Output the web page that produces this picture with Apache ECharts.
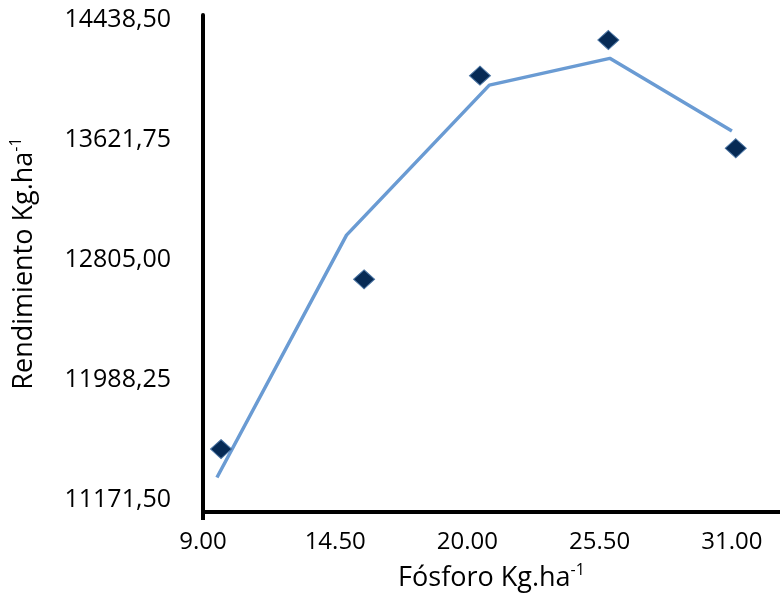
<!DOCTYPE html>
<html>
<head>
<meta charset="utf-8">
<script src="https://cdn.jsdelivr.net/npm/echarts@6/dist/echarts.min.js"></script>
<style>html,body{margin:0;padding:0;background:#fff}#c{width:780px;height:599px}</style>
</head>
<body>
<div id="c"></div>
<script>
// Observed points (diamonds)
var pointX = [9.75, 15.70, 20.52, 25.86, 31.16];
var pointY = [11518, 12673, 14059, 14302, 13565];
// Fitted line
var lineX = [9.58, 14.97, 20.91, 25.92, 31.00];
var lineY = [11325, 12974, 13995, 14177, 13682];
// Tick labels
var xTicks = [9, 14.5, 20, 25.5, 31];
var yTicks = [11171.5, 11988.25, 12805, 13621.75, 14438.5];

function zip(a, b) { return a.map(function (v, i) { return [v, b[i]]; }); }
function fmtComma(v) { return v.toFixed(2).replace('.', ','); }

var chart = echarts.init(document.getElementById('c'));
var font = 'Open Sans';
chart.setOption({
  animation: false,
  grid: { left: 201, right: 0, top: 15, bottom: 87, containLabel: false },
  xAxis: {
    type: 'value', min: 9, max: 33,
    name: '{a|Fósforo Kg.ha}{s|-1}',
    nameLocation: 'middle', nameGap: 50,
    nameTextStyle: {
      rich: {
        a: { fontFamily: font, fontSize: 27, color: '#000', lineHeight: 32 },
        s: { fontFamily: font, fontSize: 16, color: '#000', verticalAlign: 'top', lineHeight: 32, padding: [0, 0, 12, 0] }
      }
    },
    axisLine: { show: true, onZero: false, lineStyle: { color: '#000', width: 4 } },
    axisTick: { show: true, customValues: [9], length: 8, lineStyle: { color: '#000', width: 4 } },
    splitLine: { show: false },
    axisLabel: {
      customValues: xTicks, margin: 18,
      fontFamily: font, fontSize: 24, color: '#000',
      formatter: function (v) { return v.toFixed(2); }
    }
  },
  yAxis: {
    type: 'value', min: 11090, max: 14472,
    name: '{a|Rendimiento Kg.ha}{s|-1}',
    nameLocation: 'middle', nameGap: 163,
    nameTextStyle: {
      rich: {
        a: { fontFamily: font, fontSize: 27, color: '#000', lineHeight: 32 },
        s: { fontFamily: font, fontSize: 16, color: '#000', verticalAlign: 'top', lineHeight: 32, padding: [0, 0, 12, 0] }
      }
    },
    axisLine: { show: true, onZero: false, lineStyle: { color: '#000', width: 4 } },
    axisTick: { show: false },
    splitLine: { show: false },
    axisLabel: {
      customValues: yTicks, margin: 32,
      fontFamily: font, fontSize: 25, color: '#000',
      formatter: function (v) { return fmtComma(v); }
    }
  },
  series: [
    {
      type: 'line', data: zip(lineX, lineY), showSymbol: false, symbol: 'none',
      lineStyle: { color: '#6a9bd3', width: 3.5 }, z: 2
    },
    {
      type: 'scatter', data: zip(pointX, pointY), symbol: 'diamond', symbolSize: [21, 19],
      itemStyle: { color: '#062a55', borderColor: '#4a74a3', borderWidth: 1, opacity: 1 }, z: 3
    }
  ]
});
</script>
</body>
</html>
